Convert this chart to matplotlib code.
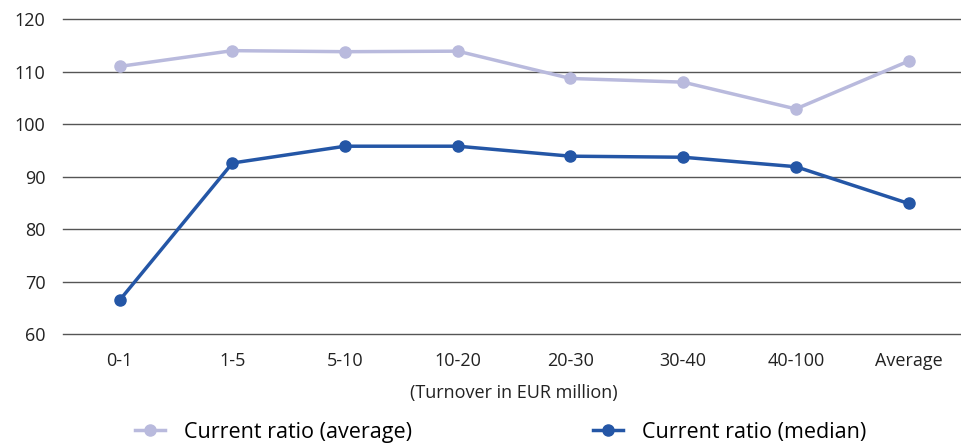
import matplotlib.pyplot as plt

categories = ["0-1", "1-5", "5-10", "10-20", "20-30", "30-40", "40-100", "Average"]
ratio_average = [111.0, 114.0, 113.8, 113.9, 108.7, 108.0, 102.9, 112.0]
ratio_median = [66.5, 92.6, 95.8, 95.8, 93.9, 93.7, 91.9, 84.9]

plt.rcParams["font.family"] = ["Open Sans", "DejaVu Sans"]

fig = plt.figure(figsize=(9.61, 4.45), dpi=100)
ax = fig.add_axes([0.066, 0.249, 0.938, 0.708])

x = list(range(len(categories)))
ax.plot(x, ratio_average, color="#b9badd", linewidth=2.5, marker="o",
        markersize=8, label="Current ratio (average)", zorder=3)
ax.plot(x, ratio_median, color="#2456a6", linewidth=2.5, marker="o",
        markersize=8, label="Current ratio (median)", zorder=3)

ax.set_ylim(60, 120)
ax.set_yticks(range(60, 121, 10))
ax.set_xlim(-0.5, len(categories) - 0.5)
ax.set_xticks(x)
ax.set_xticklabels(categories)
ax.grid(axis="y", color="#555555", linewidth=1)
for gl in ax.get_ygridlines():
    gl.set_clip_on(False)
ax.set_axisbelow(True)
for s in ax.spines.values():
    s.set_visible(False)
ax.tick_params(length=0, labelsize=13, colors="#222222")
ax.tick_params(axis="x", pad=13)
ax.tick_params(axis="y", pad=13)
ax.set_xlabel("(Turnover in EUR million)", fontsize=13, color="#222222", labelpad=10)

fig.legend(loc="center", bbox_to_anchor=(0.521, 0.029), ncol=2, frameon=False,
           fontsize=15.5, columnspacing=8.4, handlelength=1.4, handletextpad=0.9)

fig.savefig("out.png", dpi=100)
